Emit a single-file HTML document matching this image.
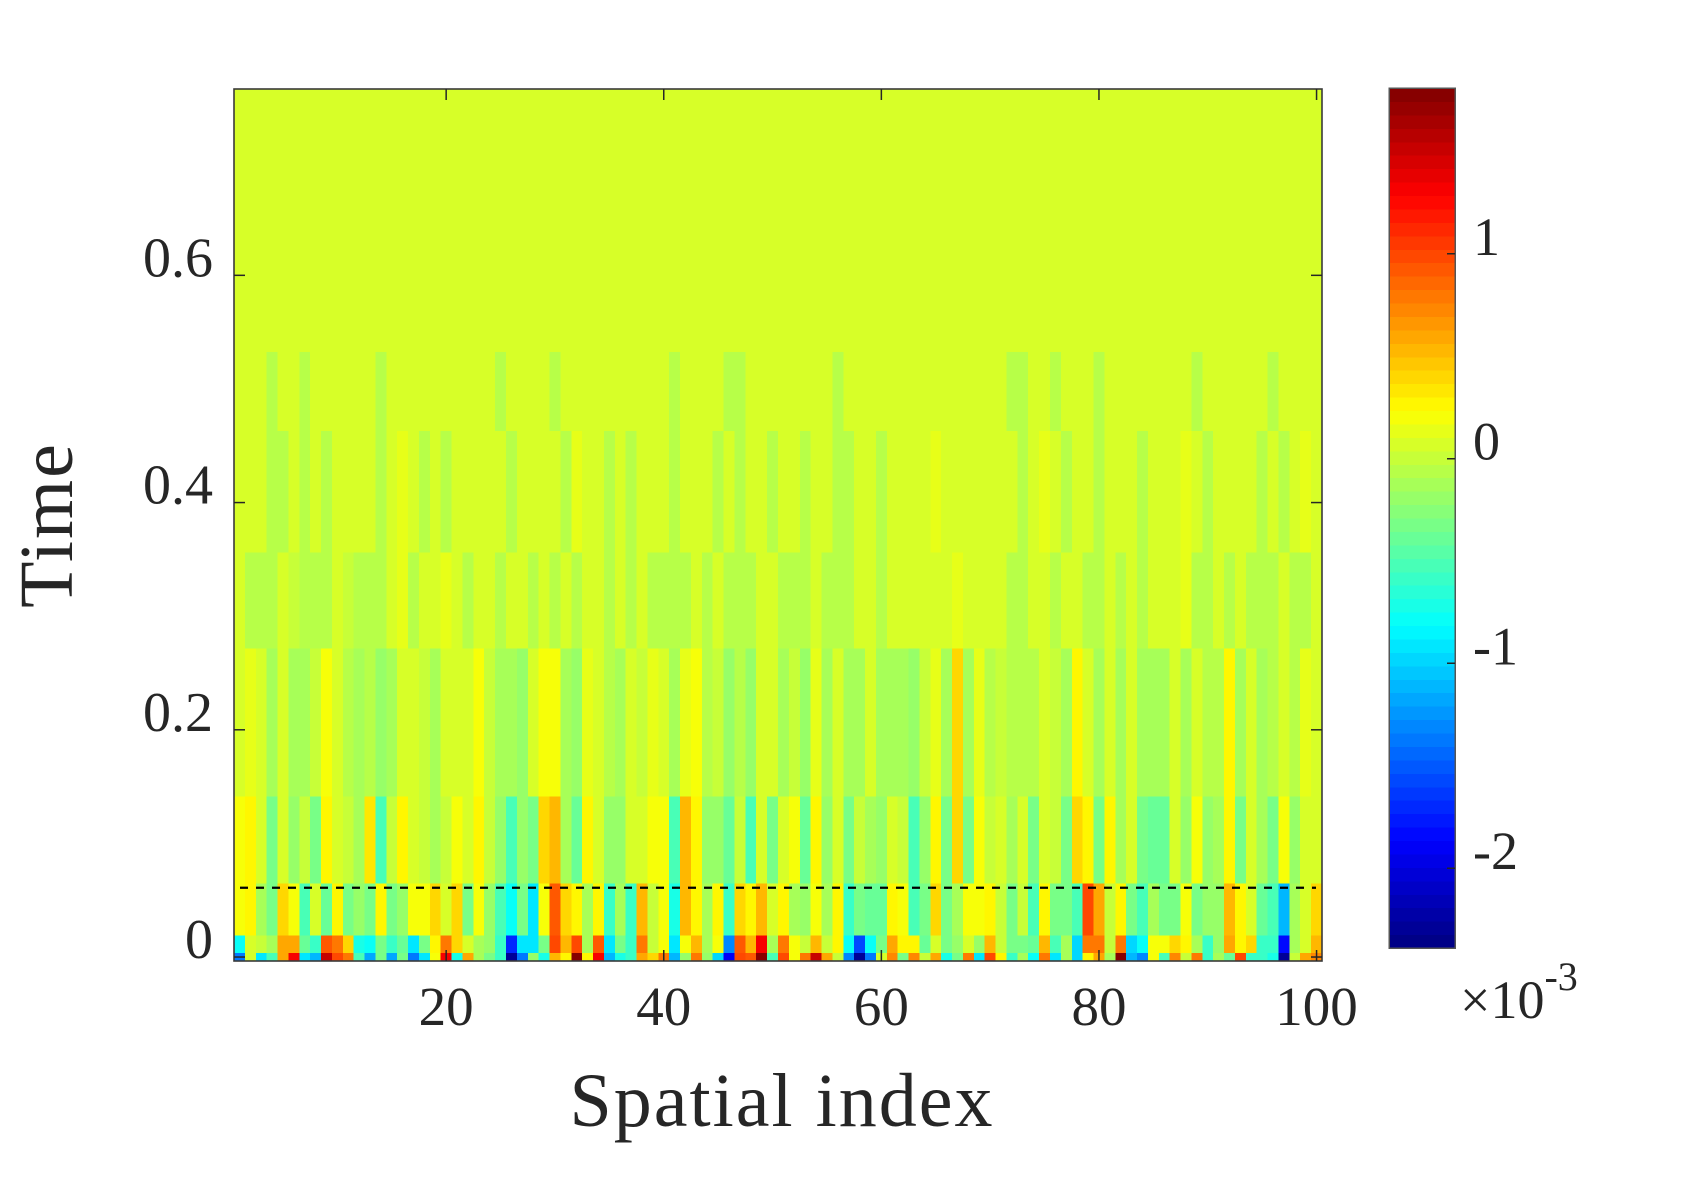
<!DOCTYPE html>
<html><head><meta charset="utf-8"><title>Spatial index vs Time heatmap</title>
<style>
html,body{margin:0;padding:0;background:#fff;}
svg{display:block;}
text{font-family:"Liberation Serif",serif;fill:#262626;}
</style></head>
<body>
<svg id="chart" width="1684" height="1194" viewBox="0 0 1684 1194">
  <rect x="0" y="0" width="1684" height="1194" fill="#fff"/>
  <g id="cells" shape-rendering="crispEdges"></g>
  <g id="cbar" shape-rendering="crispEdges"></g>
  <g id="axes"></g>
</svg>
<script>
// ---- data (values in units of 1e-3) ----
const columns = Array.from({length:100},(_,i)=>i+1);
const xTicks = [20,40,60,80,100];
const yTicks = [0,0.2,0.4,0.6];
const yTickLabels = ["0","0.2","0.4","0.6"];
const cbTicks = [-2,-1,0,1];
const cbTickLabels = ["-2","-1","0","1"];
const cLim = [-2.39,1.81];
const bgValue = 0.06;
const dashedTime = 0.061;
const dt = 0.00766;
// row bands: [firstRow,lastRow]
const bands = [[0,0],[1,2],[3,8],[9,18],[19,35],[36,46],[47,60],[61,69]];
const row0Vals = [-1.4,0.1,-0.9,-0.5,0.6,1.3,-0.9,-1.1,1.5,1.0,0.8,-0.5,-1.2,-0.3,-1.2,-0.3,-1.4,-0.9,0.2,1.3,-0.7,0.6,-0.1,-0.3,-0.6,
 -2.3,-1.4,-0.2,-0.7,0.5,0.3,1.8,0.3,1.3,-1.1,-0.7,-0.6,0.6,0.4,0.8,-1.1,-0.2,0.8,-0.2,-1.0,-1.9,1.0,0.9,1.8,-0.5,
 1.0,0.2,0.8,1.5,0.6,0.0,-1.3,-2.3,-1.4,0.1,0.7,-0.3,0.7,0.0,0.6,-0.7,-0.3,0.8,-0.9,1.0,0.3,-0.6,-0.1,-0.8,0.8,
 -0.9,-0.1,-1.0,0.3,0.6,-0.1,1.8,-1.1,-1.3,0.2,-0.5,0.7,0.0,0.8,-0.6,-0.1,-0.4,1.0,-0.6,-0.6,-0.7,-2.3,0.0,0.6,0.7];
const row12Vals = [-0.8,0.1,0.0,-0.1,0.6,0.6,-0.4,-0.6,0.9,0.8,0.4,-0.7,-0.8,-0.3,-0.6,-0.4,-0.9,-0.3,0.3,0.8,0.4,0.1,-0.1,-0.2,-0.6,
 -1.7,-0.9,-0.9,-0.3,1.0,0.5,1.0,-0.1,0.9,-0.9,-0.3,-0.6,0.8,0.0,0.2,-0.9,0.2,0.5,-0.1,0.2,-1.3,0.9,0.5,1.3,-0.1,
 0.8,0.2,0.0,0.5,0.0,0.3,-0.8,-1.6,-0.8,-0.3,0.6,0.3,0.3,-0.4,0.1,-0.3,-0.2,0.1,-0.2,0.5,0.0,-0.3,-0.3,-0.4,0.5,
 -0.5,-0.1,-1.0,0.8,0.8,0.0,0.8,-1.0,-0.8,0.2,0.2,0.4,0.3,-0.1,-0.6,-0.2,0.6,0.3,0.4,-0.6,-0.6,-1.8,-0.1,0.1,0.5];
const nearVals = [0.2,0.3,-0.1,-0.3,0.4,0.2,-0.5,0.1,-0.4,0.3,-0.3,-0.2,-0.3,0.3,-0.3,-0.2,0.2,0.2,0.4,0.1,0.4,-0.3,0.2,-0.2,-0.5,
 -0.8,-0.3,-0.9,0.2,0.9,0.4,0.3,-0.1,0.3,-0.6,-0.1,-0.6,0.5,0.0,0.2,-0.7,0.5,0.3,-0.1,0.3,-0.6,0.4,0.3,0.5,0.1,
 0.3,-0.1,-0.2,0.2,-0.1,0.3,-0.6,-0.3,-0.4,-0.4,0.3,0.2,-0.5,-0.3,0.4,-0.3,-0.1,0.2,0.2,0.3,0.0,-0.3,0.0,-0.5,0.3,
 -0.3,-0.3,-0.5,1.0,0.6,0.0,0.3,-0.3,-0.5,-0.1,-0.3,-0.3,0.2,-0.3,-0.2,-0.2,0.5,0.3,0.1,-0.4,-0.5,-1.1,-0.1,0.1,0.4];
const lowVals = [0.2,0.3,0.1,-0.3,0.1,-0.2,0.0,-0.3,0.3,0.1,0.0,-0.1,0.35,-0.5,0.0,0.3,0.1,0.0,-0.1,0.0,0.2,0.1,0.3,0.0,-0.2,
 -0.5,-0.2,-0.3,0.4,0.5,-0.1,-0.4,0.3,0.1,-0.2,-0.2,0.1,0.1,0.2,0.2,-0.5,0.5,0.3,-0.2,-0.2,-0.4,0.0,-0.5,0.1,-0.3,
 0.1,0.2,-0.4,0.3,-0.2,0.1,-0.3,0.0,-0.1,-0.2,0.1,0.0,-0.5,-0.2,0.3,-0.3,0.4,-0.3,0.2,0.0,0.1,-0.1,0.1,-0.3,0.1,
 0.0,-0.3,0.4,0.3,-0.3,0.3,-0.1,0.1,-0.3,-0.4,-0.4,0.1,-0.2,0.2,-0.2,-0.1,0.3,-0.3,0.1,-0.1,-0.3,0.2,-0.2,0.1,0.1];
const midVals = [0.05,0.15,0.05,-0.1,0.1,-0.1,-0.1,0.0,0.2,0.1,-0.05,-0.1,-0.05,-0.2,-0.1,0.1,0.05,0.0,-0.15,0.1,0.1,0.05,0.2,0.0,-0.1,
 -0.1,-0.2,0.1,0.2,0.2,-0.1,-0.2,0.15,0.05,-0.05,-0.1,0.1,0.0,0.15,0.1,-0.15,0.15,0.2,-0.05,0.0,-0.2,-0.05,-0.2,0.05,0.1,
 -0.1,0.0,-0.2,0.15,-0.1,0.1,-0.1,-0.1,0.1,-0.1,-0.1,-0.15,-0.2,0.0,0.15,-0.1,0.4,-0.1,0.15,-0.05,0.0,-0.05,-0.05,-0.05,0.05,
 0.0,-0.1,0.3,0.1,-0.1,0.1,-0.1,0.05,-0.1,-0.15,-0.1,0.1,-0.1,0.05,-0.05,-0.05,0.25,-0.1,0.05,-0.1,-0.05,0.1,-0.05,0.15,0.05];
const highVals = [0.06,-0.05,-0.05,-0.08,0.06,0.0,-0.06,-0.05,-0.08,0.06,0.0,-0.06,-0.05,-0.08,0.06,0.12,-0.05,0.1,0.06,0.12,0.06,-0.05,0.06,0.06,-0.06,
 0.06,0.06,-0.06,0.06,-0.06,0.06,-0.06,0.06,0.06,-0.06,0.06,-0.06,0.06,-0.06,-0.06,-0.06,-0.06,0.06,-0.06,0.06,-0.06,-0.06,-0.06,0.06,0.06,
 -0.06,-0.06,-0.06,0.06,-0.06,-0.06,-0.06,0.06,0.06,-0.06,0.06,0.06,0.06,0.06,0.06,0.06,0.12,0.06,0.06,0.06,0.06,-0.06,-0.06,0.06,0.06,
 -0.06,0.06,0.06,-0.06,-0.06,0.06,-0.06,0.06,-0.06,0.06,0.06,0.06,0.12,-0.06,-0.06,0.06,-0.06,0.06,-0.06,-0.06,-0.06,0.06,-0.06,-0.06,0.06];
const upperVals = [0.06,0.06,0.06,-0.05,-0.05,0.06,-0.05,0.06,-0.05,0.06,
 0.06,0.06,0.06,-0.05,0.06,0.12,0.06,-0.05,0.06,-0.05,
 0.06,0.06,0.06,0.06,0.06,-0.05,0.06,0.06,0.06,0.06,
 -0.05,0.12,0.06,0.06,-0.05,0.06,-0.05,0.06,0.06,0.06,
 -0.05,0.06,0.06,0.06,-0.05,0.06,-0.05,0.06,0.06,-0.05,
 0.06,0.06,-0.05,0.06,0.06,-0.05,-0.05,0.06,0.06,-0.05,
 0.06,0.06,0.06,0.06,0.12,0.06,0.06,0.06,0.06,0.06,
 0.06,0.06,-0.05,0.06,0.12,0.06,-0.05,0.06,0.06,-0.05,
 0.06,0.06,0.06,-0.05,0.06,0.06,0.06,0.12,0.06,-0.05,
 0.06,0.06,0.06,0.06,-0.05,0.06,-0.05,0.06,0.12,0.06];
const topVals = [0.06,0.06,0.06,-0.05,0.06,0.06,-0.05,0.06,0.06,0.06,0.06,0.06,0.06,-0.05,0.06,0.06,0.06,0.06,0.06,0.06,0.06,0.06,0.06,0.06,-0.05,
 0.06,0.06,0.06,0.06,-0.05,0.06,0.06,0.06,0.06,0.06,0.06,0.06,0.06,0.06,0.06,-0.05,0.06,0.06,0.06,0.06,-0.05,-0.05,0.06,0.06,0.06,
 0.06,0.06,0.06,0.06,0.06,-0.05,0.06,0.06,0.06,0.06,0.06,0.06,0.06,0.06,0.06,0.06,0.06,0.06,0.06,0.06,0.06,-0.05,-0.05,0.06,0.06,
 -0.05,0.06,0.06,0.06,-0.05,0.06,0.06,0.06,0.06,0.06,0.06,0.06,0.06,-0.05,0.06,0.06,0.06,0.06,0.06,0.06,-0.05,0.06,0.06,0.06,0.06];
const bandVals = [row0Vals,row12Vals,nearVals,lowVals,midVals,highVals,upperVals,topVals];

// ---- layout ----
const PL=234, PR=1322, PT=89, PB=961;
const X0=0.5, X1=100.5, T0=-0.0035, T1=0.764;
const CBL=1389, CBR=1455, CBT=88, CBB=948;
const xS = v => PL + (v-X0)/(X1-X0)*(PR-PL);
const yS = t => PB - (t-T0)/(T1-T0)*(PB-PT);
const cbY = v => CBB - (v-cLim[0])/(cLim[1]-cLim[0])*(CBB-CBT);
const NS="http://www.w3.org/2000/svg";
function jet(v){
  let x=(v-cLim[0])/(cLim[1]-cLim[0]); x=Math.max(0,Math.min(0.99999,x));
  x=(Math.floor(x*64)+0.5)/64;
  const c=u=>Math.round(255*Math.max(0,Math.min(1,u)));
  return `rgb(${c(Math.min(4*x-1.5,-4*x+4.5))},${c(Math.min(4*x-0.5,-4*x+3.5))},${c(Math.min(4*x+0.5,-4*x+2.5))})`;
}
function mk(tag,attrs,parent){const e=document.createElementNS(NS,tag);for(const k in attrs)e.setAttribute(k,attrs[k]);parent.appendChild(e);return e;}

const cells=document.getElementById('cells');
const bg=mk('rect',{x:PL,y:PT,width:PR-PL,height:PB-PT,fill:jet(bgValue)},cells);


bands.forEach((b,bi)=>{
  const vals=bandVals[bi];
  columns.forEach((c,ci)=>{
    const x0=xS(c-0.5), x1=xS(c+0.5);
    const yTop=Math.max(PT,yS((b[1]+0.5)*dt)), yBot=Math.min(PB,yS((b[0]-0.5)*dt));
    const r=mk('rect',{x:x0.toFixed(2),y:yTop.toFixed(2),width:(x1-x0+0.4).toFixed(2),height:(yBot-yTop+0.3).toFixed(2),fill:jet(vals[ci])},cells);
    
    
  });
});

// colorbar
const cb=document.getElementById('cbar');
for(let i=0;i<64;i++){
  const v0=cLim[0]+i*(cLim[1]-cLim[0])/64, v1=cLim[0]+(i+1)*(cLim[1]-cLim[0])/64;
  const r=mk('rect',{x:CBL,y:cbY(v1).toFixed(2),width:CBR-CBL,height:(cbY(v0)-cbY(v1)+0.5).toFixed(2),fill:jet((v0+v1)/2)},cb);
  
  
}
const cbf=mk('rect',{x:CBL,y:CBT,width:CBR-CBL,height:CBB-CBT,fill:'none',stroke:'#555',"stroke-width":1.5},cb);


cbTicks.forEach((v,i)=>{
  const y=cbY(v);
  const t=mk('line',{x1:CBR-8,x2:CBR,y1:y,y2:y,stroke:'#262626',"stroke-width":1.5},cb);
  
  
  const l=mk('text',{x:1473,y:y+1,"font-size":54},cb);
  l.textContent=cbTickLabels[i];
  
  
});
const ex=mk('text',{x:1460,y:1018,"font-size":54},cb);
ex.innerHTML='×10<tspan font-size="40" dy="-28">-3</tspan>';



// axes
const ax=document.getElementById('axes');
const dl=mk('line',{x1:PL+6,x2:PR-6,y1:yS(dashedTime),y2:yS(dashedTime),stroke:'#000',"stroke-width":2.2,"stroke-dasharray":"8 8"},ax);


const fr=mk('rect',{x:PL,y:PT,width:PR-PL,height:PB-PT,fill:'none',stroke:'#3a3a3a',"stroke-width":1.6},ax);


xTicks.forEach(v=>{
  const x=xS(v);
  const t1=mk('line',{x1:x,x2:x,y1:PB,y2:PB-11,stroke:'#262626',"stroke-width":1.5},ax);
  
  
  const t2=mk('line',{x1:x,x2:x,y1:PT,y2:PT+11,stroke:'#262626',"stroke-width":1.5},ax);
  
  
  const l=mk('text',{x:x,y:1025,"font-size":55,"text-anchor":"middle"},ax);
  l.textContent=String(v);
  
  
});
yTicks.forEach((v,i)=>{
  const y=yS(v);
  const t1=mk('line',{x1:PL,x2:PL+11,y1:y,y2:y,stroke:'#262626',"stroke-width":1.5},ax);
  
  
  const t2=mk('line',{x1:PR,x2:PR-11,y1:y,y2:y,stroke:'#262626',"stroke-width":1.5},ax);
  
  
  const l=mk('text',{x:213,y:y+1,"font-size":56,"text-anchor":"end"},ax);
  l.textContent=yTickLabels[i];
  
  
});
const xl=mk('text',{x:782,y:1126,"font-size":76,"text-anchor":"middle","letter-spacing":"2"},ax);
xl.textContent='Spatial index';


const yl=mk('text',{x:0,y:0,"font-size":76,"text-anchor":"middle","letter-spacing":"2",transform:"translate(72,525) rotate(-90)"},ax);
yl.textContent='Time';


</script>
</body></html>
